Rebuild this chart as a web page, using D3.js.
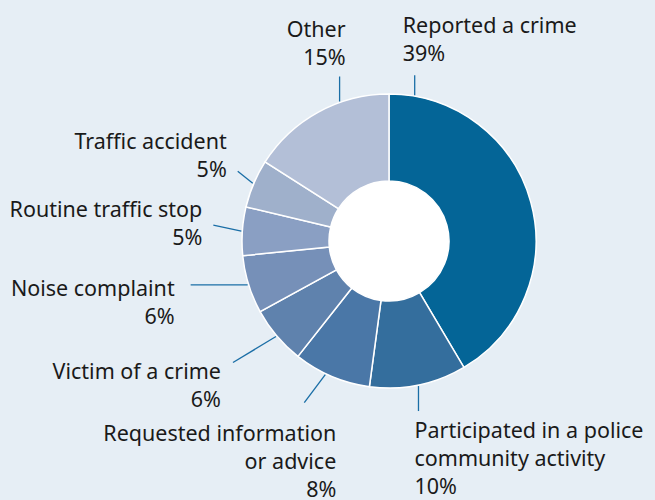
<!DOCTYPE html>
<html>
<head>
<meta charset="utf-8">
<script src="https://cdn.jsdelivr.net/npm/d3@7"></script>
<style>
  html, body { margin: 0; padding: 0; background: #e6eef5; }
  svg { display: block; }
  .lbl { font-family: "Noto Sans", sans-serif; font-size: 21.5px; fill: #1a1a1a; }
</style>
</head>
<body>
<svg id="chart" width="655" height="500"></svg>
<script>
// data, clockwise from 12 o'clock
var categories = ['Reported a crime', 'Participated in a police community activity', 'Requested information or advice',
  'Victim of a crime', 'Noise complaint', 'Routine traffic stop', 'Traffic accident', 'Other'];
var shares = [39, 10, 8, 6, 6, 5, 5, 15];
// label text broken in lines
var labelLines = [
  ['Reported a crime'],
  ['Participated in a police', 'community activity'],
  ['Requested information', 'or advice'],
  ['Victim of a crime'],
  ['Noise complaint'],
  ['Routine traffic stop'],
  ['Traffic accident'],
  ['Other']
];
var colors = ['#046597', '#346e9d', '#4a77a7', '#5f82ad', '#7690b8', '#8a9fc3', '#9fb0cb', '#b3bfd7'];

// label layout: leader angle (deg, null = mid slice), leader vector, text offset from leader end
var layout = [
  {ang: 10, vec: [0, -20], anchor: 'start', off: [-12, -42]},
  {ang: null, vec: [0, 25], anchor: 'start', off: [-4, 27]},
  {ang: 205.5, vec: [-21, 28], anchor: 'end', off: [32, 38]},
  {ang: null, vec: [-43, 26], anchor: 'end', off: [-12, 16]},
  {ang: null, vec: [-57, 0], anchor: 'end', off: [-16, 11]},
  {ang: null, vec: [-28, -6], anchor: 'end', off: [-11, -8]},
  {ang: null, vec: [-15, -12], anchor: 'end', off: [-11, -22]},
  {ang: 340.5, vec: [0, -25], anchor: 'end', off: [6, -40]}
];

var cx = 389, cy = 241, rOuter = 147, rInner = 60, lineH = 28;

var svg = d3.select('#chart');
var g = svg.append('g').attr('transform', 'translate(' + cx + ',' + cy + ')');

var pie = d3.pie().sort(null).value(function (d) { return d; });
var arcs = pie(shares);

var arc = d3.arc().innerRadius(rInner).outerRadius(rOuter);

g.append('circle').attr('r', rInner).attr('fill', '#ffffff');

g.selectAll('path.slice')
  .data(arcs)
  .enter()
  .append('path')
  .attr('class', 'slice')
  .attr('d', arc)
  .attr('fill', function (d, i) { return colors[i]; })
  .attr('stroke', '#ffffff')
  .attr('stroke-width', 1.5);

// leader lines + labels
arcs.forEach(function (d, i) {
  var L = layout[i];
  var a = L.ang == null ? (d.startAngle + d.endAngle) / 2 : L.ang * Math.PI / 180;
  var r = rOuter + 1;
  var x0 = Math.sin(a) * r, y0 = -Math.cos(a) * r;
  var x1 = x0 + L.vec[0], y1 = y0 + L.vec[1];

  g.append('line')
    .attr('x1', x0).attr('y1', y0)
    .attr('x2', x1).attr('y2', y1)
    .attr('stroke', '#1a6ea6')
    .attr('stroke-width', 1.3);

  var lines = labelLines[i].concat([shares[i] + '%']);
  var t = g.append('text')
    .attr('class', 'lbl')
    .attr('text-anchor', L.anchor)
    .attr('x', x1 + L.off[0])
    .attr('y', y1 + L.off[1]);
  lines.forEach(function (s, k) {
    t.append('tspan')
      .attr('x', x1 + L.off[0])
      .attr('dy', k === 0 ? 0 : lineH)
      .text(s);
  });
});
</script>
</body>
</html>
